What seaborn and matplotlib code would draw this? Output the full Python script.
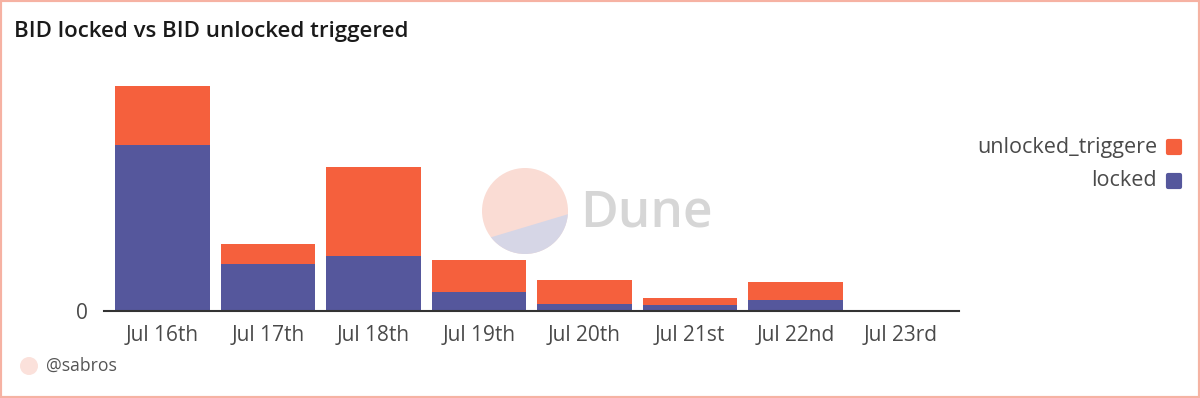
import numpy as np
import pandas as pd
import seaborn as sns
import matplotlib.pyplot as plt
from matplotlib.patches import Circle, Ellipse, Polygon, Rectangle
from matplotlib.lines import Line2D
from matplotlib.markers import MarkerStyle

# values (no y scale shown, so arbitrary units)
days = ['Jul 16th', 'Jul 17th', 'Jul 18th', 'Jul 19th',
        'Jul 20th', 'Jul 21st', 'Jul 22nd', 'Jul 23rd']
locked = [1660, 470, 547, 193, 70, 60, 110, 6]
unlocked_triggere = [593, 197, 890, 317, 243, 73, 177, 3]

c_orange = "#f5603d"
c_blue = "#55579c"
c_text = "#4a4a4a"

sns.set_theme(style="white")
plt.rcParams['font.family'] = ['Open Sans', 'DejaVu Sans']

df = pd.DataFrame({'day': days, 'locked': locked,
                   'unlocked_triggere': unlocked_triggere})
df['total'] = df['locked'] + df['unlocked_triggere']

fig = plt.figure(figsize=(12, 3.98), dpi=100)
W, H = 1200, 398

def fx(px):
    return px / W

def fy(py):
    return 1 - py / H

ax = fig.add_axes([fx(104.5), fy(311), fx(959 - 104.5), (311 - 80) / H])

sns.barplot(df, x='day', y='total', color=c_orange, width=0.9,
            saturation=1, ax=ax)
sns.barplot(df, x='day', y='locked', color=c_blue, width=0.9,
            saturation=1, ax=ax)
for p in ax.patches:
    p.set_linewidth(0)

ax.set_xlim(-0.55, 7.55)
ax.set_ylim(0, df['total'].max() * 231 / 225.3)
ax.set_yticks([0])
ax.set_yticklabels(['0'])
ax.set_xlabel('')
ax.set_ylabel('')
ax.tick_params(axis='both', length=0, labelsize=15, colors=c_text)
ax.tick_params(axis='x', pad=10)
ax.tick_params(axis='y', pad=12)
for s in ['left', 'top', 'right']:
    ax.spines[s].set_visible(False)
ax.spines['bottom'].set_color('#333333')
ax.spines['bottom'].set_linewidth(1.5)
ax.patch.set_alpha(0)

# title
fig.text(fx(14), fy(32), 'BID locked vs BID unlocked triggered',
         fontsize=16, fontweight='semibold', color='#1a1a1a', va='center')

# legend on the right
for label, col, py in [('unlocked_triggere', c_orange, 147), ('locked', c_blue, 181)]:
    fig.text(fx(1157), fy(py), label, fontsize=15.5, color=c_text,
             ha='right', va='center')
    fig.add_artist(Line2D([fx(1174)], [fy(py)], transform=fig.transFigure,
                          marker=MarkerStyle('s', joinstyle='round'),
                          markersize=8.5, markeredgewidth=3,
                          color=col, linestyle='none'))

# Dune watermark
wax = fig.add_axes([fx(482), fy(254), 86 / W, 86 / H])
wax.set_xlim(-1, 1)
wax.set_ylim(-1, 1)
wax.set_aspect('equal')
wax.axis('off')
circ = Circle((0, 0), 1, color='#fadcd4', lw=0)
wax.add_patch(circ)
low = Polygon([(-1.2, -0.734), (1.2, -0.014), (1.2, -1.2), (-1.2, -1.2)],
              color='#d6d6e6', lw=0)
wax.add_patch(low)
low.set_clip_path(circ)
fig.text(fx(580), fy(213), 'Dune', fontsize=37, fontweight='semibold',
         color='#d6d6d6', va='center')

# footer
fig.add_artist(Ellipse((fx(29), fy(366)), 18 / W, 18 / H,
                       transform=fig.transFigure, color='#fbe1db', lw=0))
fig.text(fx(46), fy(366), '@sabros', fontsize=12.7, color='#555555', va='center')

# border
fig.add_artist(Rectangle((0, 0), 1, 1, transform=fig.transFigure,
                         fill=False, edgecolor='#f6b2a3', lw=3))

plt.savefig('out.png', dpi=100)
plt.close()
